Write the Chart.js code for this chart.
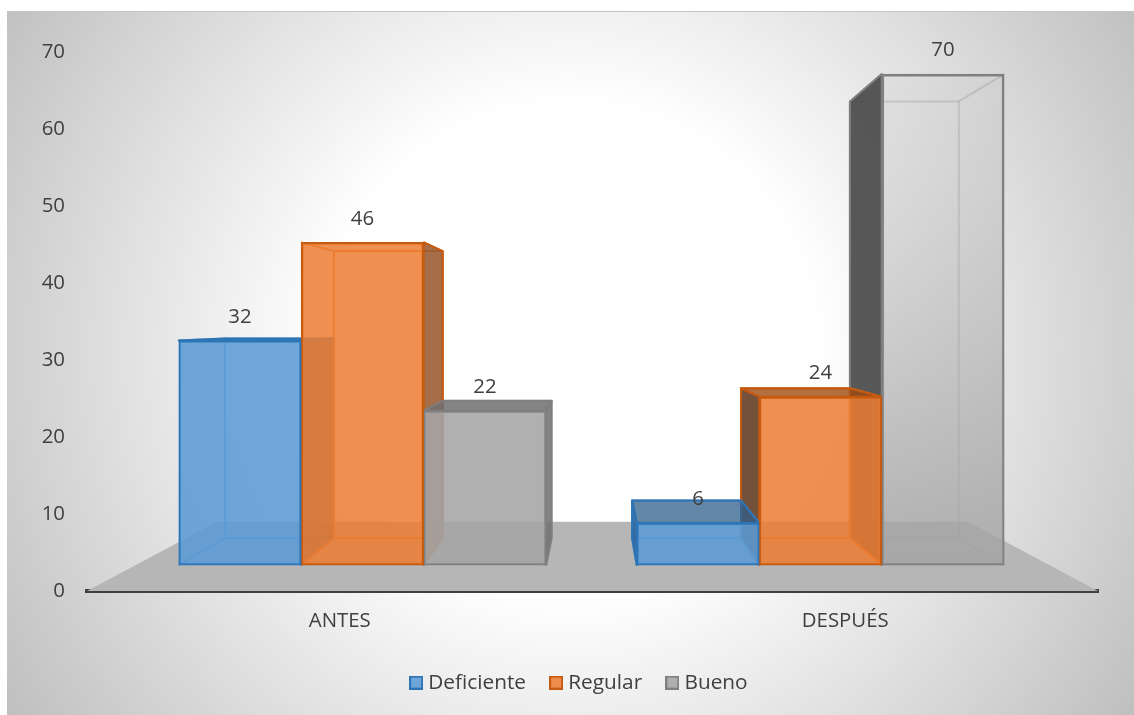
<!DOCTYPE html>
<html>
<head>
<meta charset="utf-8">
<style>
  html, body { margin: 0; padding: 0; background: #fff; }
  #wrap { width: 1134px; height: 715px; }
</style>
<script src="https://cdn.jsdelivr.net/npm/chart.js@4"></script>
</head>
<body>
<div id="wrap"><canvas id="myChart" width="1134" height="715"></canvas></div>
<script>
const categories = ["ANTES", "DESPUÉS"];
const seriesNames = ["Deficiente", "Regular", "Bueno"];
const deficiente = [32, 6];
const regular = [46, 24];
const bueno = [22, 70];
const yTicks = [0, 10, 20, 30, 40, 50, 60, 70];

const FONT = '"Open Sans", "Noto Sans", sans-serif';
const TEXT = '#404040';
const FONT_SIZE = 20.4;

// cada serie: frente, borde, y las caras "de fuera" (oscuras)
const styles = [
  { front: 'rgba(91,155,213,0.88)', border: '#2e75b6', inner: 'rgba(70,135,200,0.8)',
    left: 'rgba(40,100,160,0.9)', right: 'rgba(60,90,120,0.85)', top: 'rgba(47,95,140,0.75)' },
  { front: 'rgba(237,125,49,0.85)', border: '#c55a11', inner: 'rgba(232,115,40,0.9)',
    left: 'rgba(90,50,25,0.85)', right: 'rgba(150,85,40,0.85)', top: 'rgba(160,75,15,0.8)' },
  { front: 'rgba(165,165,165,0.88)', border: '#7f7f7f', inner: 'rgba(120,120,120,0.25)',
    left: 'rgba(70,70,70,0.9)', right: 'rgba(110,110,110,0.85)', top: 'rgba(110,110,110,0.85)' }
];

// profundidad: la cara de atras es la de adelante reducida hacia el punto de fuga
const backScale = 0.889;
const vanishX = 595;
const vanishY = 321;
const backX = x => vanishX + (x - vanishX) * backScale;
const backY = y => vanishY + (y - vanishY) * backScale;

function poly(ctx, pts, fill, stroke, lw) {
  ctx.beginPath();
  pts.forEach((p, i) => i ? ctx.lineTo(p[0], p[1]) : ctx.moveTo(p[0], p[1]));
  ctx.closePath();
  if (fill) { ctx.fillStyle = fill; ctx.fill(); }
  if (stroke) { ctx.strokeStyle = stroke; ctx.lineWidth = lw || 2; ctx.stroke(); }
}

function line(ctx, a, b, stroke) {
  ctx.beginPath();
  ctx.moveTo(a[0], a[1]);
  ctx.lineTo(b[0], b[1]);
  ctx.strokeStyle = stroke;
  ctx.lineWidth = 2;
  ctx.stroke();
}

// cuadrito de la leyenda
function legendBox(d) {
  const c = document.createElement('canvas');
  c.width = 14;
  c.height = 14;
  const x = c.getContext('2d');
  x.fillStyle = styles[d].front;
  x.fillRect(0, 0, 14, 14);
  x.strokeStyle = styles[d].border;
  x.lineWidth = 2;
  x.strokeRect(1, 1, 12, 12);
  return c;
}

const depthPlugin = {
  id: 'depth',
  afterLayout(chart) {
    const lg = chart.legend;
    lg.left += 32;
    lg.right += 32;
    lg.top -= 12;
    lg.bottom -= 12;
  },
  beforeDraw(chart) {
    // fondo con degradado radial
    const ctx = chart.ctx;
    const x0 = 7, y0 = 12, w = 1127, h = 703;
    const g = ctx.createRadialGradient(570, 350, 0, 570, 350, 664);
    g.addColorStop(0, '#ffffff');
    g.addColorStop(0.37, '#ffffff');
    g.addColorStop(1, '#c0c0c0');
    ctx.fillStyle = g;
    ctx.fillRect(x0, y0, w, h);
    ctx.fillStyle = '#c4c4c4';
    ctx.fillRect(x0, y0 - 1, w, 1);
  },
  beforeDatasetsDraw(chart) {
    const ctx = chart.ctx;
    const area = chart.chartArea;
    const y0 = chart.scales.y.getPixelForValue(0);
    const yFloor = chart.scales.y.getPixelForValue(9);
    ctx.save();
    ctx.lineJoin = 'round';
    poly(ctx, [[area.left, y0], [area.left + 130, yFloor], [area.right - 130, yFloor], [area.right, y0]], '#b6b6b6');

    categories.forEach((c, i) => {
      // los grupos se pintan desde el lado del centro hacia afuera
      const order = i === 0 ? [0, 1, 2] : [2, 1, 0];
      order.forEach(d => {
        const bar = chart.getDatasetMeta(d).data[i];
        const st = styles[d];
        const p = bar.getProps(['x', 'y', 'base', 'width'], true);
        const l = p.x - p.width / 2, r = p.x + p.width / 2, t = p.y, b = p.base;
        const bl = backX(l), br = backX(r), bt = backY(t), bb = backY(b);
        // aristas de la cara de atras
        poly(ctx, [[bl, bt], [br, bt], [br, bb], [bl, bb]], null, st.inner);
        line(ctx, [l, b], [bl, bb], st.inner);
        line(ctx, [r, b], [br, bb], st.inner);
        line(ctx, [l, t], [bl, bt], st.inner);
        line(ctx, [r, t], [br, bt], st.inner);
        // caras visibles desde fuera
        if (bl < l) poly(ctx, [[l, t], [bl, bt], [bl, bb], [l, b]], st.left, st.border);
        if (br > r) poly(ctx, [[r, t], [br, bt], [br, bb], [r, b]], st.right, st.border);
        if (bt < t) poly(ctx, [[l, t], [bl, bt], [br, bt], [r, t]], st.top, st.border);
      });
    });
    ctx.restore();
  },
  afterDatasetsDraw(chart) {
    // etiquetas de datos
    const ctx = chart.ctx;
    ctx.save();
    ctx.font = FONT_SIZE + 'px ' + FONT;
    ctx.fillStyle = TEXT;
    ctx.textAlign = 'center';
    ctx.textBaseline = 'middle';
    chart.data.datasets.forEach((ds, d) => {
      chart.getDatasetMeta(d).data.forEach((bar, i) => {
        ctx.fillText(ds.data[i].y, bar.x, bar.y - 23.5);
      });
    });
    ctx.restore();
  }
};

function buenoFill(c) {
  if (c.dataIndex !== 1) return styles[2].front;
  const yb = c.chart.scales.yBars;
  if (!yb || !c.chart.chartArea) return styles[2].front;
  const g = c.chart.ctx.createLinearGradient(0, yb.getPixelForValue(70), 0, yb.getPixelForValue(0));
  g.addColorStop(0, 'rgba(165,165,165,0.1)');
  g.addColorStop(1, 'rgba(165,165,165,0.85)');
  return g;
}

const seriesValues = [deficiente, regular, bueno];

new Chart(document.getElementById('myChart'), {
  type: 'bar',
  data: {
    labels: categories,
    datasets: seriesNames.map((name, d) => ({
      label: name,
      data: seriesValues[d].map((v, i) => ({ x: i, y: v })),
      xAxisID: 'xBars',
      yAxisID: 'yBars',
      backgroundColor: d === 2 ? buenoFill : styles[d].front,
      borderColor: styles[d].border,
      borderWidth: 2,
      borderSkipped: false,
      barThickness: 122.5
    }))
  },
  plugins: [depthPlugin],
  options: {
    responsive: false,
    animation: false,
    layout: { padding: { left: 0, right: 36, top: 52, bottom: 0 } },
    plugins: {
      tooltip: { enabled: false },
      legend: {
        position: 'bottom',
        labels: {
          color: TEXT,
          font: { family: FONT, size: 20.8 },
          usePointStyle: true,
          pointStyleWidth: 3.4,
          boxHeight: 14,
          padding: 28.5,
          generateLabels(chart) {
            return chart.data.datasets.map((ds, d) => ({
              text: ds.label,
              pointStyle: legendBox(d),
              fontColor: TEXT,
              datasetIndex: d
            }));
          }
        }
      }
    },
    scales: {
      x: {
        type: 'category',
        position: 'bottom',
        grid: { display: false, drawTicks: false },
        border: { display: true, color: '#404040', width: 4 },
        ticks: { color: TEXT, font: { family: FONT, size: FONT_SIZE }, padding: 18, maxRotation: 0 },
        afterFit(s) { s.height = 64.6; }
      },
      xBars: {
        type: 'linear',
        display: false,
        offset: false,
        // la perspectiva acerca los grupos al centro
        min: -0.6015,
        max: 1.606
      },
      y: {
        min: 0,
        max: 70,
        position: 'left',
        grid: { display: false, drawTicks: false },
        border: { display: false },
        afterBuildTicks(s) { s.ticks = yTicks.map(v => ({ value: v })); },
        ticks: { color: TEXT, font: { family: FONT, size: FONT_SIZE }, padding: 22 },
        afterFit(s) { s.width = 87; }
      },
      yBars: {
        type: 'linear',
        display: false,
        // plano frontal de las barras: 7 px por unidad, base a 564
        min: -3.714,
        max: 73.143
      }
    }
  }
});
</script>
</body>
</html>
